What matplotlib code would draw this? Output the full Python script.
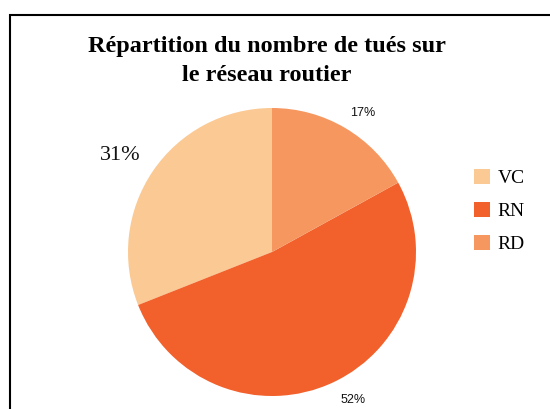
import matplotlib.pyplot as plt
from matplotlib.patches import Rectangle

labels = ['VC', 'RN', 'RD']
shares = [31, 52, 17]
colors = ['#FBC993', '#F2602B', '#F79760']
title = 'Répartition du nombre de tués sur\nle réseau routier'

W, H = 550, 409
fig = plt.figure(figsize=(W / 100, H / 100), dpi=100)
ax = fig.add_axes([0, 0, 1, 1])

wedges, texts, autotexts = ax.pie(shares, colors=colors, startangle=90,
                                  center=(272, H - 252), radius=144,
                                  autopct='%d%%', frame=True)
ax.set_xlim(0, W)
ax.set_ylim(0, H)
ax.set_aspect('equal')
ax.axis('off')

# label placement as in the original (outside, odd spots)
label_pos = [(120, H - 156), (353, H - 400), (363, H - 113)]
label_style = [dict(family='Liberation Serif', size=16),
               dict(family='Liberation Sans', size=9),
               dict(family='Liberation Sans', size=9)]
for t, pos, st in zip(autotexts, label_pos, label_style):
    t.set_position(pos)
    t.set_fontfamily(st['family'])
    t.set_fontsize(st['size'])
    t.set_color('#111111')
    t.set_ha('center')
    t.set_va('center')

fig.text(267 / W, 1 - 61 / H, title, ha='center', va='center',
         family='Liberation Serif', weight='bold', fontsize=17.5,
         linespacing=1.55)

leg = ax.legend(wedges, labels, loc='upper left', frameon=False,
                bbox_to_anchor=(468 / W, 1 - 163 / H),
                prop=dict(family='Liberation Serif', size=14),
                handlelength=0.82, handleheight=0.82, handletextpad=0.4,
                labelspacing=0.75, borderaxespad=0, borderpad=0.3)

fig.patches.append(Rectangle((9.5 / W, -0.1), 1.2, (H - 15.5) / H + 0.1,
                             transform=fig.transFigure, fill=False,
                             edgecolor='black', linewidth=1.5))

fig.savefig('out.png', dpi=100)
